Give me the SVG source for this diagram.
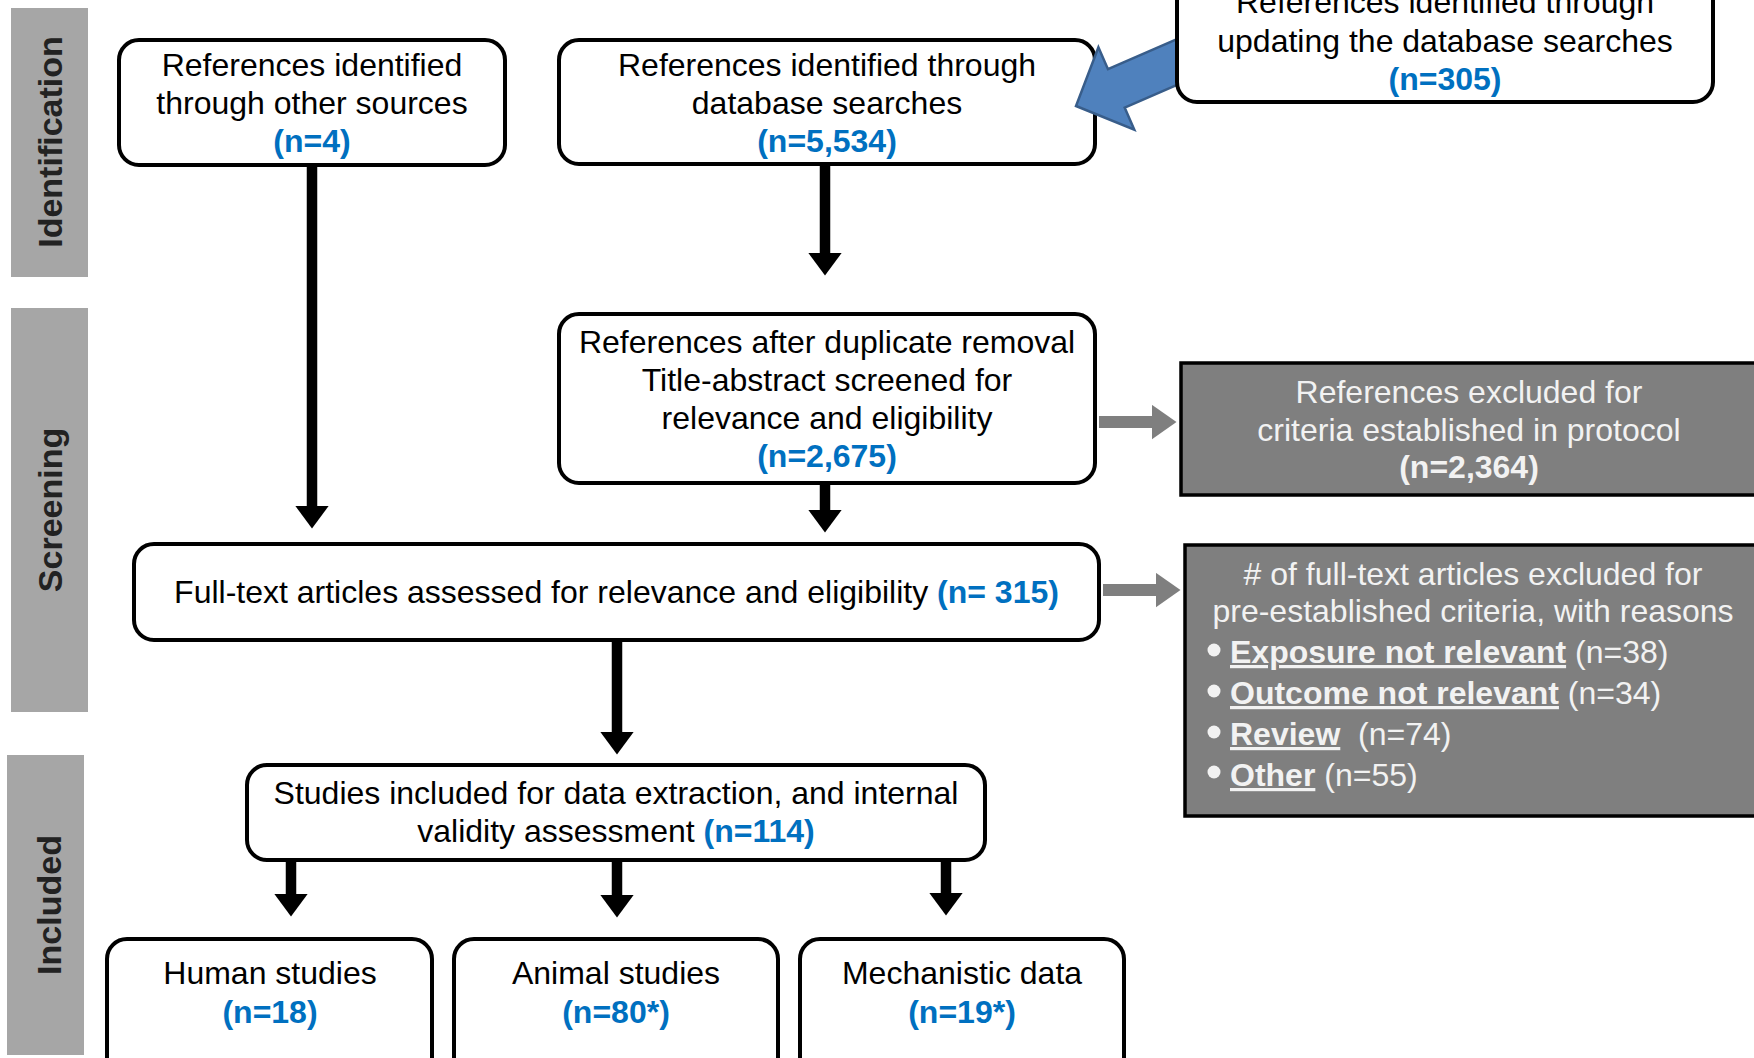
<svg xmlns="http://www.w3.org/2000/svg" width="1754" height="1058" viewBox="0 0 1754 1058">
<style>
.t{font-family:"Liberation Sans",Arial,sans-serif;font-size:32px;fill:#000;text-anchor:middle}
.w{fill:#f2f2f2}
.l{text-anchor:start;white-space:pre}
.n{font-weight:bold;fill:#0070c0}
.b{font-weight:bold}
.u{font-weight:bold;text-decoration:underline}
.box{fill:#fff;stroke:#000;stroke-width:4}
.gbox{fill:#7f7f7f;stroke:#000;stroke-width:3.5}
.lane{fill:#a6a6a6}
.lt{font-family:"Liberation Sans",Arial,sans-serif;font-size:34px;font-weight:bold;fill:#222;text-anchor:middle}
.k{stroke:#000;stroke-width:10.5;fill:none;marker-end:url(#ah)}
.g{stroke:#7f7f7f;stroke-width:12;fill:none;marker-end:url(#gh)}
.dot{fill:#f2f2f2}
</style>
<defs>
<marker id="ah" markerUnits="userSpaceOnUse" viewBox="0 0 23 34" refX="0.5" refY="17" markerWidth="23" markerHeight="34" orient="auto"><path d="M0,0 L23,17 L0,34 z" fill="#000"/></marker>
<marker id="gh" markerUnits="userSpaceOnUse" viewBox="0 0 25 35" refX="0.5" refY="17.5" markerWidth="25" markerHeight="35" orient="auto"><path d="M0,0 L25,17.5 L0,35 z" fill="#7f7f7f"/></marker>
</defs>

<g id="lanes">
<rect class="lane" x="11" y="8" width="77" height="269"/>
<text class="lt" transform="translate(62,142) rotate(-90)">Identification</text>
<rect class="lane" x="11" y="308" width="77" height="404"/>
<text class="lt" transform="translate(62,510) rotate(-90)">Screening</text>
<rect class="lane" x="7" y="755" width="77" height="300"/>
<text class="lt" transform="translate(61,905) rotate(-90)">Included</text>
</g>

<g id="other-sources">
<rect class="box" x="119" y="40" width="386" height="125" rx="20"/>
<text class="t" x="312" y="76">References identified</text>
<text class="t" x="312" y="114">through other sources</text>
<text class="t n" x="312" y="152">(n=4)</text>
</g>

<g id="database-searches">
<rect class="box" x="559" y="40" width="536" height="124" rx="20"/>
<text class="t" x="827" y="76">References identified through</text>
<text class="t" x="827" y="114">database searches</text>
<text class="t n" x="827" y="152">(n=5,534)</text>
</g>

<g id="connectors">
<line class="k" x1="312" y1="167" x2="312" y2="506"/>
<line class="k" x1="825" y1="166" x2="825" y2="253"/>
<line class="k" x1="825" y1="485" x2="825" y2="510"/>
<line class="k" x1="617" y1="642" x2="617" y2="732"/>
<line class="k" x1="291" y1="862" x2="291" y2="894"/>
<line class="k" x1="617" y1="862" x2="617" y2="895"/>
<line class="k" x1="946" y1="862" x2="946" y2="893"/>
<line class="g" x1="1099" y1="422" x2="1152" y2="422"/>
<line class="g" x1="1103" y1="590" x2="1156" y2="590"/>
<polygon id="update-arrow" points="0,0 -44,-45 -44,-21 -160,-21 -160,21 -44,21 -44,45" transform="translate(1076,106) rotate(156.5)" fill="#4f81bd" stroke="#385d8a" stroke-width="2.5" stroke-linejoin="miter"/>
</g>

<g id="updating-searches">
<rect class="box" x="1177" y="-30" width="536" height="132" rx="20"/>
<text class="t" x="1445" y="13">References identified through</text>
<text class="t" x="1445" y="52">updating the database searches</text>
<text class="t n" x="1445" y="90">(n=305)</text>
</g>

<g id="duplicate-removal">
<rect class="box" x="559" y="314" width="536" height="169" rx="20"/>
<text class="t" x="827" y="353">References after duplicate removal</text>
<text class="t" x="827" y="391">Title-abstract screened for</text>
<text class="t" x="827" y="429">relevance and eligibility</text>
<text class="t n" x="827" y="467">(n=2,675)</text>
</g>

<g id="excluded-protocol">
<rect class="gbox" x="1181" y="363" width="600" height="132"/>
<text class="t w" x="1469" y="403">References excluded for</text>
<text class="t w" x="1469" y="441">criteria established in protocol</text>
<text class="t w b" x="1469" y="478">(n=2,364)</text>
</g>

<g id="full-text">
<rect class="box" x="134" y="544" width="965" height="96" rx="20"/>
<text class="t" x="616.5" y="603">Full-text articles assessed for relevance and eligibility <tspan class="n">(n= 315)</tspan></text>
</g>

<g id="excluded-fulltext">
<rect class="gbox" x="1185" y="545" width="600" height="271"/>
<text class="t w" x="1473" y="585"># of full-text articles excluded for</text>
<text class="t w" x="1473" y="622">pre-established criteria, with reasons</text>
<circle class="dot" cx="1214" cy="650" r="6.5"/>
<text class="t w l" x="1230" y="663"><tspan class="u">Exposure not relevant</tspan> (n=38)</text>
<circle class="dot" cx="1214" cy="691" r="6.5"/>
<text class="t w l" x="1230" y="704"><tspan class="u">Outcome not relevant</tspan> (n=34)</text>
<circle class="dot" cx="1214" cy="732" r="6.5"/>
<text class="t w l" x="1230" y="745"><tspan class="u">Review</tspan>  (n=74)</text>
<circle class="dot" cx="1214" cy="772" r="6.5"/>
<text class="t w l" x="1230" y="786"><tspan class="u">Other</tspan> (n=55)</text>
</g>

<g id="studies-included">
<rect class="box" x="247" y="765" width="738" height="95" rx="20"/>
<text class="t" x="616" y="804">Studies included for data extraction, and internal</text>
<text class="t" x="616" y="842">validity assessment <tspan class="n">(n=114)</tspan></text>
</g>

<g id="human">
<rect class="box" x="107" y="939" width="325" height="140" rx="20"/>
<text class="t" x="270" y="984">Human studies</text>
<text class="t n" x="270" y="1023">(n=18)</text>
</g>

<g id="animal">
<rect class="box" x="454" y="939" width="324" height="140" rx="20"/>
<text class="t" x="616" y="984">Animal studies</text>
<text class="t n" x="616" y="1023">(n=80*)</text>
</g>

<g id="mechanistic">
<rect class="box" x="800" y="939" width="324" height="140" rx="20"/>
<text class="t" x="962" y="984">Mechanistic data</text>
<text class="t n" x="962" y="1023">(n=19*)</text>
</g>
</svg>
